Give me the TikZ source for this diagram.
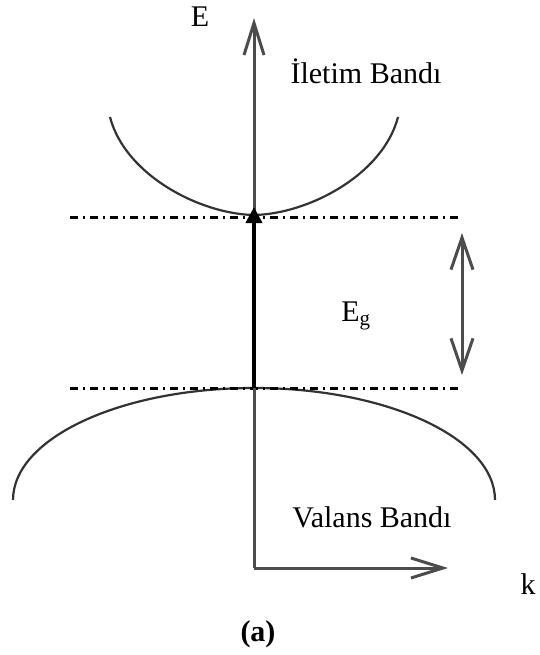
\documentclass[tikz,border=0pt]{standalone}
\usepackage{fontspec}
\setmainfont{Liberation Serif}
\usepackage{tikz}
\usetikzlibrary{positioning, arrows.meta, calc}

\begin{document}
\begin{tikzpicture}[
    x=0.5pt, y=-0.5pt,
    axis/.style={draw=black!70, line width=1.5pt, -{Straight Barb[length=16pt, width=10pt, line width=1.5pt]}},
    band/.style={draw=black!80, line width=1.1pt},
    level/.style={draw=black, line width=1.5pt, dash pattern=on 4pt off 2.5pt on 1pt off 2.5pt},
    gaparrow/.style={draw=black!70, line width=1.5pt, {Straight Barb[length=16pt, width=11pt, line width=1.5pt]}-{Straight Barb[length=16pt, width=11pt, line width=1.5pt]}},
    transition/.style={draw=black, line width=2pt, -{Triangle[length=8pt, width=8pt]}},
    txt/.style={font=\fontsize{15}{18}\selectfont, anchor=base, inner sep=0pt}
]
\useasboundingbox (0,0) rectangle (540,655);

% Punkte
\coordinate (O) at (254,568);
\coordinate (Etip) at (254,18);
\coordinate (ktip) at (448,568);
\coordinate (cmin) at (254,215);
\coordinate (vmax) at (254,388);
\coordinate (L1) at (70,217);
\coordinate (R1) at (460,217);
\coordinate (L2) at (70,388);
\coordinate (R2) at (460,388);
\coordinate (gtop) at (462,233);
\coordinate (gbot) at (462,375);

% Baender
\draw[band] (110,117) .. controls (125,175) and (200,214) .. (cmin) .. controls (308,214) and (383,175) .. (398,117);
\draw[band] (13,500) arc[start angle=180, end angle=360, x radius=241, y radius=112];

% Niveaus
\draw[level] (L1) -- (R1);
\draw[level] (L2) -- (R2);

% Achsen
\draw[axis] (O) -- (Etip);
\draw[axis] (O) -- (ktip);
\draw[transition] (vmax) -- ([yshift=4pt]cmin);
\draw[gaparrow] (gtop) -- (gbot);

% Beschriftungen
\node[txt] (E) at (200,26) {E};
\node[txt] (k) at (528,594) {k};
\node[txt] (cb) at (366,83) {İletim Bandı};
\node[txt] (vb) at (372,527) {Valans Bandı};
\node[txt, anchor=base west] (Eg) at (341,321) {E\textsubscript{g}};
\node[txt] (cap) at (258,641) {\textbf{(a)}};

\end{tikzpicture}
\end{document}
